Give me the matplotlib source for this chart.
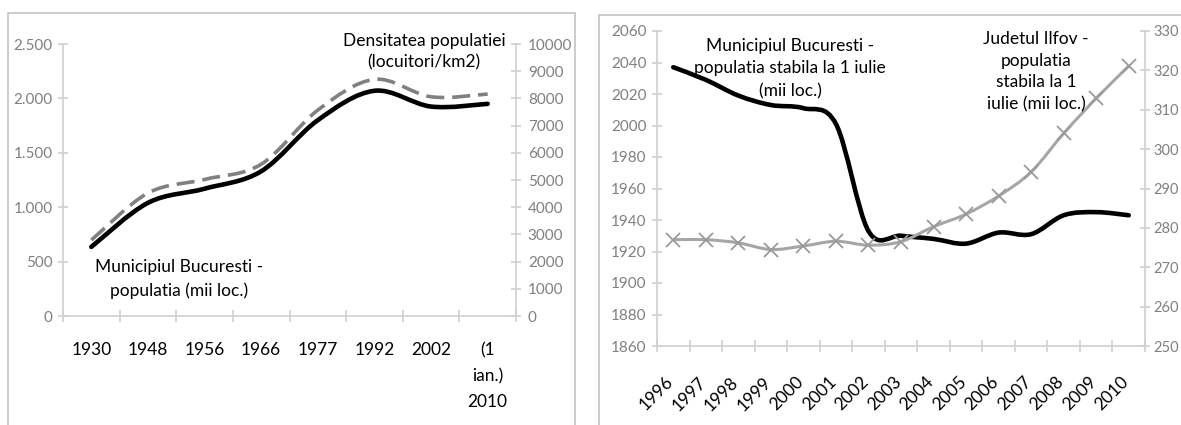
import matplotlib.pyplot as plt
import numpy as np
from matplotlib.path import Path
from matplotlib.patches import PathPatch, Rectangle
from matplotlib.ticker import FuncFormatter
from matplotlib.transforms import ScaledTranslation

plt.rcParams["font.family"] = ["Lato", "DejaVu Sans"]

# --- date ---
ani_recensamant = ["1930", "1948", "1956", "1966", "1977", "1992", "2002", "(1\nian.)\n2010"]
populatie_buc = [635, 1040, 1170, 1330, 1800, 2070, 1925, 1950]
densitate_buc = [2790, 4520, 5020, 5580, 7570, 8700, 8060, 8160]

ani_iulie = ["1996", "1997", "1998", "1999", "2000", "2001", "2002", "2003",
             "2004", "2005", "2006", "2007", "2008", "2009", "2010"]
buc_iulie = [2037, 2029, 2019, 2013, 2011, 2001, 1933, 1930,
             1928, 1925, 1932, 1931, 1943, 1945, 1943]
ilfov_iulie = [277.0, 277.0, 276.2, 274.5, 275.4, 276.6, 275.6, 276.5,
               280.3, 283.5, 288.1, 294.2, 304.0, 312.9, 321.1]

W, H = 1181, 425
GRI_AX = "#d0d0d0"
GRI_TXT = "#808080"

fig = plt.figure(figsize=(W / 100, H / 100), dpi=100)


def axe_px(x0, y0, x1, y1):
    return fig.add_axes([x0 / W, 1 - y1 / H, (x1 - x0) / W, (y1 - y0) / H])


def linie_neteda(ax, ys, **kw):
    # linie "smooth" ca in Excel (Bezier prin punctele seriei)
    pts = np.column_stack([np.arange(len(ys)), ys]).astype(float)
    n = len(pts)
    verts, codes = [pts[0]], [Path.MOVETO]
    for i in range(n - 1):
        p0, p1 = pts[max(i - 1, 0)], pts[i]
        p2, p3 = pts[i + 1], pts[min(i + 2, n - 1)]
        verts += [p1 + (p2 - p0) / 6, p2 - (p3 - p1) / 6, p2]
        codes += [Path.CURVE4] * 3
    ax.add_patch(PathPatch(Path(verts, codes), fill=False, **kw))


def stil_axe(ax, n):
    for s in ["top", "right"]:
        ax.spines[s].set_visible(False)
    for s in ["left", "bottom"]:
        ax.spines[s].set_color(GRI_AX)
        ax.spines[s].set_linewidth(1.2)
    ax.set_xlim(-0.5, n - 0.5)
    ax.set_xticks(np.arange(n + 1) - 0.5)
    ax.set_xticklabels([])
    ax.tick_params(axis="x", which="major", direction="inout", length=8, width=1.2, color=GRI_AX)
    ax.tick_params(axis="x", which="minor", length=0)
    ax.tick_params(axis="y", direction="inout", length=7, width=1.2, color=GRI_AX,
                   labelcolor=GRI_TXT, labelsize=11, pad=4)


def stil_twin(ax2, pad=5, size=11):
    for s in ["top", "left", "bottom"]:
        ax2.spines[s].set_visible(False)
    ax2.spines["right"].set_color(GRI_AX)
    ax2.spines["right"].set_linewidth(1.2)
    ax2.tick_params(axis="y", direction="inout", length=7, width=1.2, color=GRI_AX,
                    labelcolor=GRI_TXT, labelsize=size, pad=pad)


# chenare
fig.add_artist(Rectangle((8 / W, 1 - 440 / H), 567 / W, 427 / H, transform=fig.transFigure,
                         fill=False, ec="#c4c4c4", lw=1.2))
fig.add_artist(Rectangle((599 / W, 1 - 440 / H), 600 / W, 425 / H, transform=fig.transFigure,
                         fill=False, ec="#c4c4c4", lw=1.2))

# --- grafic stanga ---
ax = axe_px(63, 44, 516, 316)
stil_axe(ax, len(ani_recensamant))
ax.set_ylim(0, 2500)
ax.set_yticks(range(0, 2501, 500))
ax.yaxis.set_major_formatter(FuncFormatter(lambda v, p: f"{v:,.0f}".replace(",", ".")))
ax.set_xticks(np.arange(len(ani_recensamant)), ani_recensamant, minor=True,
              fontsize=12.5, linespacing=1.75)
ax.tick_params(axis="x", which="minor", pad=19)
linie_neteda(ax, populatie_buc, ec="black", lw=3.3, capstyle="round", zorder=3)

ax2 = ax.twinx()
stil_twin(ax2)
ax2.set_ylim(0, 10000)
ax2.set_yticks(range(0, 10001, 1000))
linie_neteda(ax2, densitate_buc, ec="#808080", lw=2.6, linestyle=(0, (5, 2.2)), zorder=3)

ax2.text(0.256, 0.136, "Municipiul Bucuresti -\npopulatia (mii loc.)", transform=ax.transAxes,
         ha="center", va="center", fontsize=12.5, linespacing=1.5)
ax2.text(0.797, 0.972, "Densitatea populatiei\n(locuitori/km2)", transform=ax.transAxes,
         ha="center", va="center", fontsize=12.5, linespacing=1.45)

# --- grafic dreapta ---
bx = axe_px(657, 31, 1145, 346)
stil_axe(bx, len(ani_iulie))
bx.set_ylim(1860, 2060)
bx.set_yticks(range(1860, 2061, 20))
bx.set_xticks(np.arange(len(ani_iulie)), ani_iulie, minor=True, fontsize=12.5,
              rotation=45, ha="right", va="top", rotation_mode="anchor")
bx.tick_params(axis="x", which="minor", pad=20)
deplasare = ScaledTranslation(-8 / 100, 0, fig.dpi_scale_trans)
for lbl in bx.get_xticklabels(minor=True):
    lbl.set_transform(lbl.get_transform() + deplasare)
linie_neteda(bx, buc_iulie, ec="black", lw=3.3, capstyle="round", zorder=3)

bx2 = bx.twinx()
stil_twin(bx2, pad=2.5, size=10.5)
bx2.set_ylim(250, 330)
bx2.set_yticks(range(250, 331, 10))
linie_neteda(bx2, ilfov_iulie, ec="#a6a6a6", lw=2.2, zorder=3)
bx2.plot(np.arange(len(ilfov_iulie)), ilfov_iulie, ls="none", marker="x", ms=10,
         mew=1.3, color="#9a9a9a", zorder=4)

bx2.text(0.2725, 0.881, "Municipiul Bucuresti -\npopulatia stabila la 1 iulie\n(mii loc.)",
         transform=bx.transAxes, ha="center", va="center", fontsize=12.5, linespacing=1.5)
bx2.text(0.777, 0.871, "Judetul Ilfov -\npopulatia\nstabila la 1\niulie (mii loc.)",
         transform=bx.transAxes, ha="center", va="center", fontsize=12.5, linespacing=1.45)

fig.savefig("out.png", dpi=100)
print("saved out.png")
